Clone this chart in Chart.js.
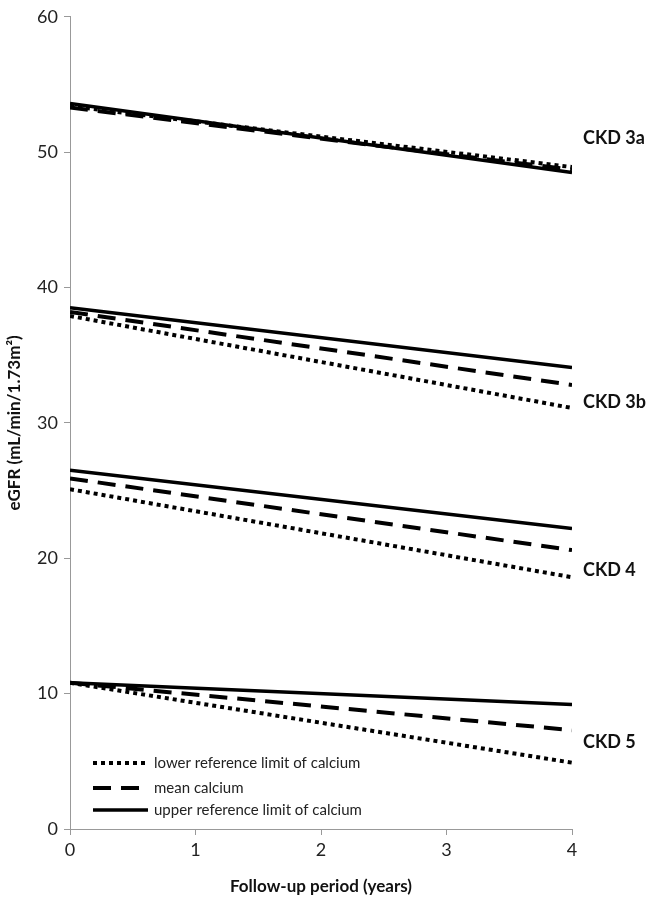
<!DOCTYPE html>
<html>
<head>
<meta charset="utf-8">
<script src="https://cdn.jsdelivr.net/npm/chart.js@4/dist/chart.umd.min.js"></script>
<style>
  html, body { margin: 0; padding: 0; background: #fff; }
  #wrap { width: 666px; height: 901px; }
</style>
</head>
<body>
<div id="wrap"><canvas id="egfr"></canvas></div>
<script>
// follow-up years (start and end of the fitted lines)
const years = [0, 4]
const stages = ['CKD 3a', 'CKD 3b', 'CKD 4', 'CKD 5']
const seriesNames = ['lower reference limit of calcium', 'mean calcium', 'upper reference limit of calcium']

// eGFR at year 0 and year 4, per stage
const lowerCa = [[53.4, 48.9], [37.9, 31.1], [25.1, 18.6], [10.8, 4.9]]
const meanCa  = [[53.3, 48.7], [38.2, 32.8], [25.9, 20.6], [10.8, 7.3]]
const upperCa = [[53.6, 48.5], [38.5, 34.1], [26.5, 22.2], [10.8, 9.2]]

// where the stage label sits on the y scale
const stageLabelY = [51.0, 31.5, 19.1, 6.4]
const yTicks = [0, 10, 20, 30, 40, 50, 60]
const xTicks = [0, 1, 2, 3, 4]

const styles = [
  { dash: [4, 4], width: 4 },
  { dash: [18, 10], width: 4 },
  { dash: [], width: 3.5 }
]

const font = "Lato, 'Open Sans', sans-serif"

function makeSet(name, stage, vals, st) {
  return {
    label: name + ' (' + stage + ')',
    data: years.map((x, i) => ({ x: x, y: vals[i] })),
    borderColor: '#000',
    borderWidth: st.width,
    borderDash: st.dash,
    borderCapStyle: 'butt',
    pointRadius: 0,
    fill: false,
    tension: 0
  }
}

const datasets = []
stages.forEach((s, i) => {
  datasets.push(makeSet(seriesNames[0], s, lowerCa[i], styles[0]))
  datasets.push(makeSet(seriesNames[1], s, meanCa[i], styles[1]))
  datasets.push(makeSet(seriesNames[2], s, upperCa[i], styles[2]))
})

const labelsPlugin = {
  id: 'stageLabels',
  afterDatasetsDraw(chart) {
    const ctx = chart.ctx
    const xs = chart.scales.x, ys = chart.scales.y
    ctx.save()
    // stage labels on the right
    ctx.fillStyle = '#111'
    ctx.font = "bold 18px " + font
    ctx.textBaseline = 'middle'
    ctx.textAlign = 'left'
    stages.forEach((s, i) => {
      ctx.fillText(s, xs.right + 11, ys.getPixelForValue(stageLabelY[i]))
    })
    // legend inside the plot, bottom left
    const lx = xs.left + 23, lw = 55
    const rows = [ys.bottom - 66, ys.bottom - 41, ys.bottom - 19]
    ctx.font = "15px " + font
    seriesNames.forEach((n, i) => {
      ctx.beginPath()
      ctx.setLineDash(styles[i].dash)
      ctx.lineWidth = styles[i].width
      ctx.strokeStyle = '#000'
      ctx.moveTo(lx, rows[i])
      ctx.lineTo(lx + lw, rows[i])
      ctx.stroke()
      ctx.setLineDash([])
      ctx.fillStyle = '#222'
      ctx.fillText(n, lx + lw + 6, rows[i])
    })
    ctx.restore()
  }
}

new Chart(document.getElementById('egfr'), {
  type: 'line',
  data: { datasets: datasets },
  plugins: [labelsPlugin],
  options: {
    responsive: true,
    maintainAspectRatio: false,
    animation: false,
    layout: { padding: { top: 10, right: 94, left: 0, bottom: 0 } },
    plugins: {
      legend: { display: false },
      tooltip: { enabled: false }
    },
    scales: {
      x: {
        type: 'linear',
        min: 0,
        max: 4,
        afterBuildTicks: (axis) => { axis.ticks = xTicks.map(v => ({ value: v })) },
        afterFit: (axis) => { axis.height = 72 },
        border: { color: '#999', width: 1 },
        grid: { drawOnChartArea: false, tickLength: 6, color: '#999' },
        ticks: { color: '#222', font: { family: font, size: 18 }, padding: 4 },
        title: {
          display: true,
          text: 'Follow-up period (years)',
          color: '#111',
          font: { family: font, size: 17, weight: 'bold' },
          padding: { top: 4 }
        }
      },
      y: {
        min: 0,
        max: 60,
        afterBuildTicks: (axis) => { axis.ticks = yTicks.map(v => ({ value: v })) },
        afterFit: (axis) => { axis.width = 70 },
        border: { color: '#999', width: 1 },
        grid: { drawOnChartArea: false, tickLength: 6, color: '#999' },
        ticks: { color: '#222', font: { family: font, size: 18 }, padding: 6 },
        title: {
          display: true,
          text: 'eGFR (mL/min/1.73m²)',
          color: '#111',
          font: { family: font, size: 17, weight: 'bold' },
          padding: { bottom: 2 }
        }
      }
    }
  }
})
</script>
</body>
</html>
